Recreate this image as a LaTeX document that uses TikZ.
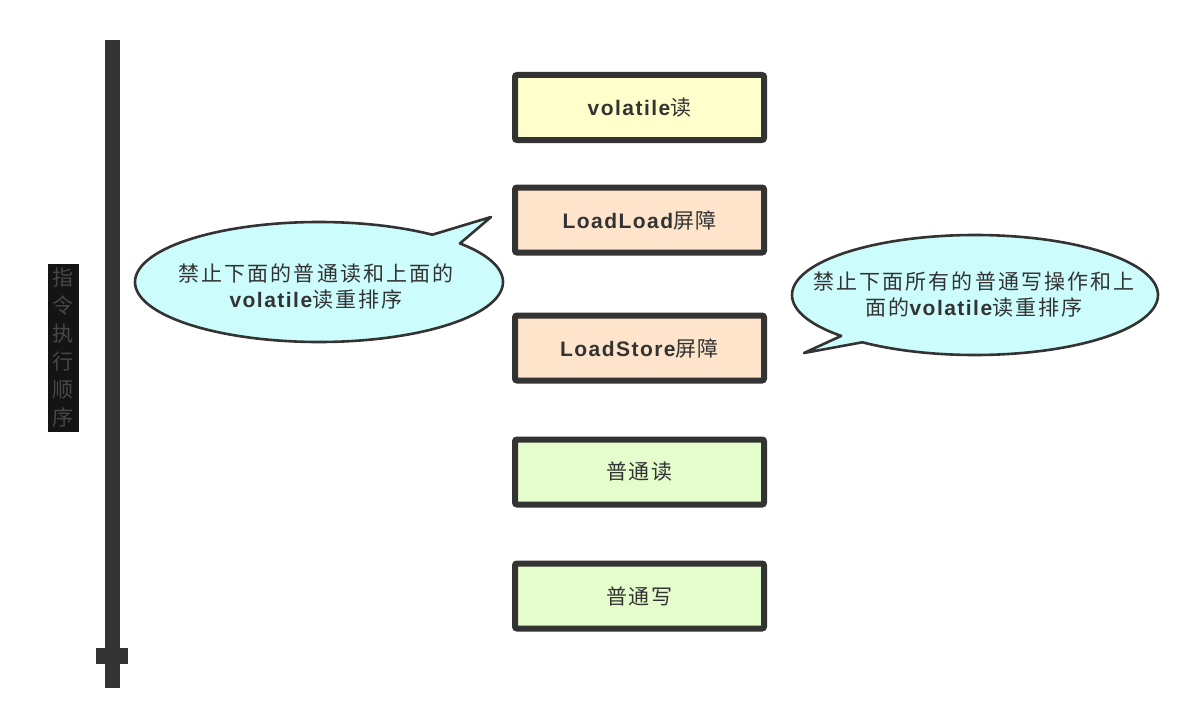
\documentclass[tikz,border=0pt]{standalone}
\usepackage{fontspec}
\setmainfont{Noto Sans CJK SC}
\newfontfamily\cjk[LetterSpace=6]{Noto Sans CJK SC}
\newfontfamily\cjkb[LetterSpace=10]{Noto Sans CJK SC}
\newfontfamily\lat[LetterSpace=7]{Liberation Sans}
\definecolor{edge}{HTML}{333333}
\definecolor{txt}{HTML}{333333}
\definecolor{fyellow}{HTML}{FFFFCC}
\definecolor{fpeach}{HTML}{FDE4CB}
\definecolor{fgreen}{HTML}{E5FDCC}
\definecolor{fcyan}{HTML}{CCFCFC}
\definecolor{lblbg}{HTML}{141414}
\definecolor{lbltxt}{HTML}{474747}
\tikzset{
  opbox/.style={draw=edge, line width=6pt, rounded corners=2pt, minimum width=249pt, minimum height=65pt, inner sep=0pt, text=txt, font=\fontsize{21}{26}\selectfont\cjk},
  bubble/.style={draw=edge, line width=2.6pt, fill=fcyan, line join=round},
  btext/.style={align=center, text=txt, inner sep=0pt, font=\fontsize{21}{26}\selectfont\cjkb},
  axisline/.style={draw=edge, line width=15pt},
}
\newcommand{\vb}[1]{{\lat\bfseries #1}}
\begin{document}
\begin{tikzpicture}[x=1pt,y=-1pt]
\useasboundingbox (0,0) rectangle (1200,725);
\fill[white] (0,0) rectangle (1200,725);

% time axis
\coordinate (top) at (112,40);
\coordinate (bot) at (112,688);
\draw[axisline] (top) -- (bot);
\fill[edge] (96,648) rectangle (128,664);
\node[fill=lblbg, text=lbltxt, minimum width=31pt, minimum height=168pt, inner sep=0pt, align=center,
  font=\fontsize{21}{28}\selectfont] (lbl) at (63,348) {指\\令\\执\\行\\顺\\序};

% operation boxes
\node[opbox, fill=fyellow] (b1) at (639.5,107.5) {\vb{volatile}读};
\node[opbox, fill=fpeach]  (b2) at (639.5,220) {\vb{LoadLoad}屏障};
\node[opbox, fill=fpeach]  (b3) at (639.5,348) {\vb{LoadStore}屏障};
\node[opbox, fill=fgreen]  (b4) at (639.5,472) {普通读};
\node[opbox, fill=fgreen]  (b5) at (639.5,596) {普通写};

% bubble 1
\filldraw[bubble] (319,282) ++(-40:184 and 60)
  arc[start angle=-40, end angle=308, x radius=184, y radius=60] -- (491,217) -- cycle;
\node[btext] (t1) at (316,287) {禁止下面的普通读和上面的\\\vb{volatile}读重排序};

% bubble 2
\filldraw[bubble] (975,295) ++(137:183 and 60)
  arc[start angle=137, end angle=488, x radius=183, y radius=60] -- (804,353) -- cycle;
\node[btext] (t2) at (974,295) {禁止下面所有的普通写操作和上\\面的\vb{volatile}读重排序};
\end{tikzpicture}
\end{document}
